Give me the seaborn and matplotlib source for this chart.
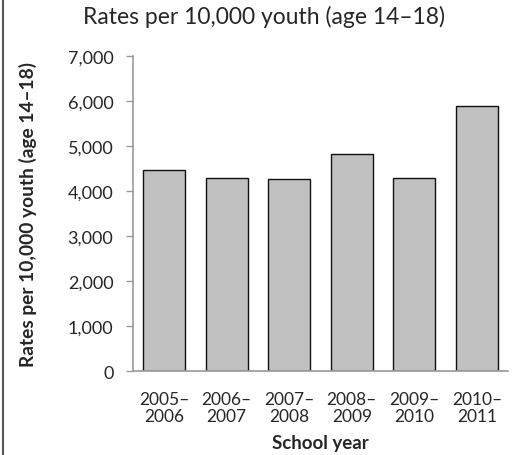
import matplotlib
matplotlib.use("Agg")
import matplotlib.pyplot as plt
from matplotlib.lines import Line2D
import seaborn as sns
import pandas as pd

# values
school_years = ["2005–\n2006", "2006–\n2007", "2007–\n2008", "2008–\n2009", "2009–\n2010", "2010–\n2011"]
rates = [4470, 4295, 4275, 4815, 4300, 5895]
y_ticks = [0, 1000, 2000, 3000, 4000, 5000, 6000, 7000]

df = pd.DataFrame({"year": school_years, "rate": rates})

sns.set_theme(style="white")
plt.rcParams["font.family"] = ["Lato", "DejaVu Sans"]

fig = plt.figure(figsize=(5.17, 4.56), dpi=100)
ax = fig.add_axes([0.257, 0.184, 0.726, 0.691])

sns.barplot(data=df, x="year", y="rate", color="#c0c0c0", saturation=1,
            edgecolor="#111111", linewidth=1.0, width=0.67, ax=ax)

ax.set_xlim(-0.5, 5.5)
ax.set_ylim(0, 7000)
ax.set_yticks(y_ticks)
ax.set_yticklabels([f"{v:,}" for v in y_ticks], fontsize=13)
ax.set_xticks(range(len(school_years)))
ax.set_xticklabels(school_years, fontsize=12.5, linespacing=1.15)
ax.tick_params(axis="x", length=0, pad=14)
ax.tick_params(axis="y", length=5, width=1, color="#999999", direction="out", pad=9, left=True)

for s in ["top", "right"]:
    ax.spines[s].set_visible(False)
ax.spines["left"].set_color("#999999")
ax.spines["bottom"].set_color("#999999")
ax.spines["left"].set_linewidth(1.2)
ax.spines["bottom"].set_linewidth(1.2)

ax.set_xlabel("School year", fontsize=13.5, fontweight="bold", va="center")
ax.xaxis.set_label_coords(0.5, -0.228)
ax.set_ylabel("Rates per 10,000 youth (age 14–18)", fontsize=13.8, fontweight="bold", va="center")
ax.yaxis.set_label_coords(-0.279, 0.5)
fig.suptitle("Rates per 10,000 youth (age 14–18)", fontsize=16.5, x=0.511, y=0.962, va="center")

# thin frame line on the left edge of the figure
fig.add_artist(Line2D([0.005, 0.005], [0, 1], color="#555555", linewidth=1.5, transform=fig.transFigure))

fig.savefig("out.png", dpi=100)
